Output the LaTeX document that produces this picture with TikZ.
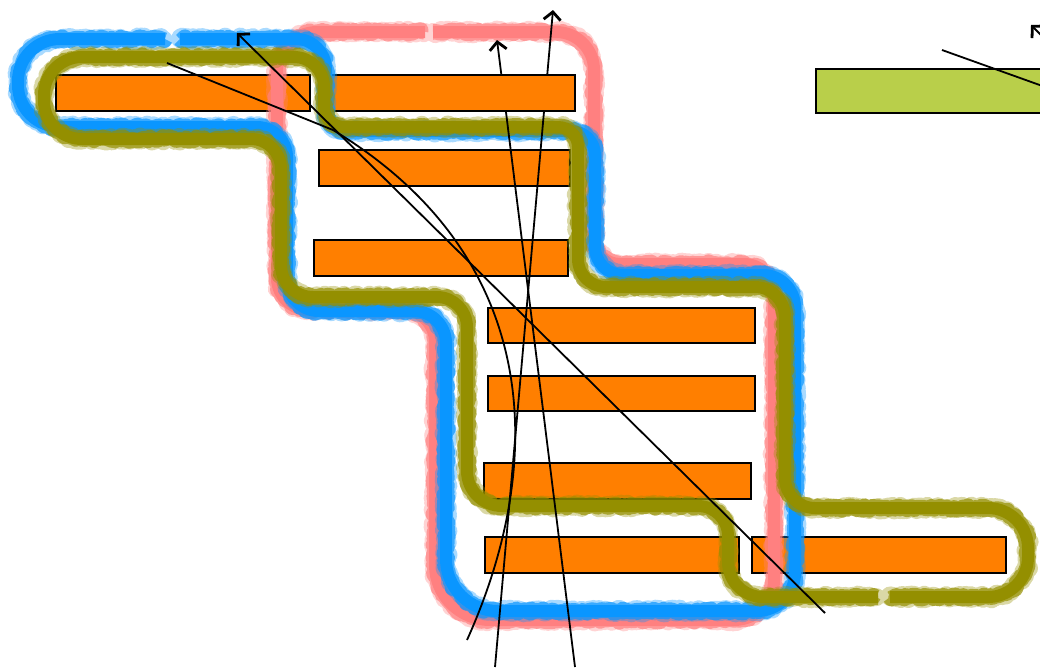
\documentclass[tikz,border=0pt]{standalone}
\usetikzlibrary{arrows.meta,decorations.pathmorphing,shadows,calc}
\definecolor{boxorange}{RGB}{255,127,0}
\definecolor{boxgreen}{RGB}{185,207,74}
\definecolor{hullblue}{RGB}{10,150,255}
\definecolor{hullpink}{RGB}{255,128,128}
\definecolor{hullolive}{RGB}{148,143,0}
% rounded corner at #2 between neighbours #1 and #3, radius #4
\newcommand\rc[4]{-- ($(#2)!#4!(#1)$) .. controls ($(#2)!0.448*#4!(#1)$) and ($(#2)!0.448*#4!(#3)$) .. ($(#2)!#4!(#3)$)}
% crayon-like stroke: solid core plus two ragged passes
\newcommand\crayon[2]{%
  \draw[#1, line width=12pt, line cap=butt, line join=round] #2;
  \draw[#1, line width=15.5pt, line cap=butt, line join=round, opacity=0.7,
        decorate, decoration={random steps, segment length=2.5pt, amplitude=2pt}] #2;
  \draw[#1, line width=18pt, line cap=round, line join=round, opacity=0.35,
        dash pattern=on 1.5pt off 2.2pt,
        decorate, decoration={random steps, segment length=2pt, amplitude=2.5pt}] #2;
}
\begin{document}
\begin{tikzpicture}[x=1pt,y=-1pt,
  box/.style={draw=black, line width=1.7pt, fill=boxorange, inner sep=0pt, outer sep=0pt,
    anchor=north west,
    drop shadow={shadow xshift=-0.8pt, shadow yshift=-1.4pt, opacity=0.25, fill=black}},
  conn/.style={draw=black, line width=1.8pt},
  tip/.style={-{Straight Barb[length=8pt, width=17pt, line width=2.8pt]}}]
\useasboundingbox (0,0) rectangle (1040,670);
\pgfmathsetseed{11}

% bars
\node[box, minimum width=254pt, minimum height=36pt] (b1) at (56,75) {};
\node[box, minimum width=245pt, minimum height=36pt] (b2) at (330,75) {};
\node[box, minimum width=251pt, minimum height=36pt] (b3) at (319,150) {};
\node[box, minimum width=254pt, minimum height=36pt] (b4) at (314,240) {};
\node[box, minimum width=267pt, minimum height=35pt] (b5) at (488,308) {};
\node[box, minimum width=267pt, minimum height=35pt] (b6) at (488,376) {};
\node[box, minimum width=267pt, minimum height=36pt] (b7) at (484,463) {};
\node[box, minimum width=254pt, minimum height=36pt] (b8) at (485,537) {};
\node[box, minimum width=254pt, minimum height=36pt] (b9) at (752,537) {};
\node[box, fill=boxgreen, minimum width=240pt, minimum height=44pt] (g1) at (816,69) {};

% set outlines
\crayon{hullpink}{(433,32)
  \rc{433,32}{594,32}{594,264}{38pt}
  \rc{594,32}{594,264}{774,264}{26pt}
  \rc{594,264}{774,264}{774,620}{30pt}
  \rc{774,264}{774,620}{435,620}{40pt}
  \rc{774,620}{435,620}{435,310}{55pt}
  \rc{435,620}{435,310}{277,310}{32pt}
  \rc{435,310}{277,310}{277,32}{32pt}
  \rc{277,310}{277,32}{425,32}{40pt}
  -- (425,32)}

\crayon{hullblue}{(180,39)
  \rc{180,39}{326,39}{326,131}{30pt}
  \rc{326,39}{326,131}{595,131}{20pt}
  \rc{326,131}{595,131}{595,275}{24pt}
  \rc{595,131}{595,275}{795,275}{28pt}
  \rc{595,275}{795,275}{795,611}{32pt}
  \rc{795,275}{795,611}{446,611}{38pt}
  \rc{795,611}{446,611}{446,311}{52pt}
  \rc{446,611}{446,311}{287,311}{32pt}
  \rc{446,311}{287,311}{287,127}{32pt}
  \rc{287,311}{287,127}{18,127}{30pt}
  \rc{287,127}{18,127}{18,39}{42pt}
  \rc{18,127}{18,39}{165,39}{42pt}
  -- (165,39)}

\crayon{hullolive}{(890,597)
  \rc{890,597}{1028,597}{1028,508}{40pt}
  \rc{1028,597}{1028,508}{785,508}{40pt}
  \rc{1028,508}{785,508}{785,287}{30pt}
  \rc{785,508}{785,287}{578,287}{30pt}
  \rc{785,287}{578,287}{578,127}{28pt}
  \rc{578,287}{578,127}{324,127}{20pt}
  \rc{578,127}{324,127}{324,57}{20pt}
  \rc{324,127}{324,57}{44,57}{30pt}
  \rc{324,57}{44,57}{44,139}{38pt}
  \rc{44,57}{44,139}{281,139}{38pt}
  \rc{44,139}{281,139}{281,297}{30pt}
  \rc{281,139}{281,297}{467,297}{32pt}
  \rc{281,297}{467,297}{467,506}{30pt}
  \rc{467,297}{467,506}{728,506}{35pt}
  \rc{467,506}{728,506}{728,597}{30pt}
  \rc{728,506}{728,597}{878,597}{35pt}
  -- (878,597)}

% connectors
\coordinate (l1a) at (825,613);
\coordinate (l1b) at (237,33);
\draw[conn, tip] (l1a) -- (l1b);

\coordinate (l2a) at (167,63);
\coordinate (l2m) at (333,130);
\coordinate (l2b) at (467,640);
\draw[conn] (l2a) -- (l2m) .. controls (540,255) and (549,458) .. (l2b);

\coordinate (l3a) at (575,667);
\coordinate (l3b) at (497,40);
\draw[conn] (l3a) -- (intersection of l3a--l3b and b2.south west--b2.south east);
\draw[conn, tip] (intersection of l3a--l3b and b2.north west--b2.north east) -- (l3b);

\coordinate (l4a) at (495,667);
\coordinate (l4b) at (553,10);
\draw[conn] (l4a) -- (intersection of l4a--l4b and b2.south west--b2.south east);
\draw[conn, tip] (intersection of l4a--l4b and b2.north west--b2.north east) -- (l4b);

\coordinate (l5a) at (942,50);
\coordinate (l5b) at (1048,88);
\draw[conn] (l5a) -- (l5b);

\coordinate (l6a) at (1054,48);
\coordinate (l6b) at (1031,25);
\draw[conn, tip] (l6a) -- (l6b);
\end{tikzpicture}
\end{document}
